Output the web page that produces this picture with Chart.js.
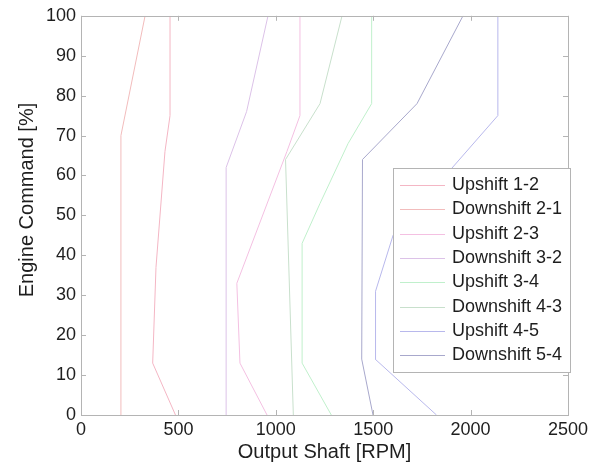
<!DOCTYPE html>
<html>
<head>
<meta charset="utf-8">
<script src="https://cdn.jsdelivr.net/npm/chart.js@4.4.0/dist/chart.umd.min.js"></script>
<style>
  html, body { margin: 0; padding: 0; background: #fff; }
  #wrap { width: 610px; height: 468px; }
</style>
</head>
<body>
<div id="wrap"><canvas id="shiftChart" width="610" height="468"></canvas></div>
<script>
// shift schedule: engine command breakpoints [%] and output shaft speed [RPM]
const up12Thr = [0, 13, 37, 66, 75, 100];
const up12Rpm = [485, 368, 385, 431, 457, 457];
const down21Thr = [0, 70, 100];
const down21Rpm = [205, 205, 329];
const up23Thr = [0, 13, 33, 66, 75, 100];
const up23Rpm = [955, 816, 800, 1057, 1124, 1124];
const down32Thr = [0, 62, 76, 100];
const down32Rpm = [745, 745, 850, 960];
const up34Thr = [0, 13, 43, 53, 68, 78, 100];
const up34Rpm = [1285, 1135, 1135, 1227, 1371, 1492, 1492];
const down43Thr = [0, 64, 78, 100];
const down43Rpm = [1090, 1050, 1227, 1340];
const up45Thr = [0, 14, 31, 45, 75, 100];
const up45Rpm = [1825, 1510, 1512, 1602, 2140, 2140];
const down54Thr = [0, 14, 64, 78, 100];
const down54Rpm = [1499, 1441, 1445, 1725, 1961];

const seriesNames = ['Upshift 1-2', 'Downshift 2-1', 'Upshift 2-3', 'Downshift 3-2',
                     'Upshift 3-4', 'Downshift 4-3', 'Upshift 4-5', 'Downshift 5-4'];
const seriesColors = ['#f4b6c4', '#f2bcbc', '#f4c0e2', '#dcc2e8',
                      '#c0f0cc', '#c8e0cc', '#b8b8ec', '#a8a8cc'];
const xTicks = [0, 500, 1000, 1500, 2000, 2500];
const yTicks = [0, 10, 20, 30, 40, 50, 60, 70, 80, 90, 100];

function toPoints(thr, rpm) {
    let pts = [];
    for (let i = 0; i < thr.length; i++) {
        pts.push({ x: rpm[i], y: thr[i] });
    }
    return pts;
}

const seriesData = [
    toPoints(up12Thr, up12Rpm),
    toPoints(down21Thr, down21Rpm),
    toPoints(up23Thr, up23Rpm),
    toPoints(down32Thr, down32Rpm),
    toPoints(up34Thr, up34Rpm),
    toPoints(down43Thr, down43Rpm),
    toPoints(up45Thr, up45Rpm),
    toPoints(down54Thr, down54Rpm)
];

const frameColor = '#b4b4b4';
const textColor = '#1e1e1e';
const fontFamily = '"Liberation Sans", Arial, Helvetica, sans-serif';

// box around the axes with short inward ticks on all four sides
const axesBox = {
    id: 'axesBox',
    afterDatasetsDraw(chart) {
        const ctx = chart.ctx;
        const a = chart.chartArea;
        const xs = chart.scales.x;
        const ys = chart.scales.y;
        const len = 5;
        ctx.save();
        ctx.strokeStyle = frameColor;
        ctx.lineWidth = 1;
        ctx.beginPath();
        xTicks.forEach(v => {
            const px = Math.round(xs.getPixelForValue(v)) + 0.5;
            ctx.moveTo(px, a.bottom); ctx.lineTo(px, a.bottom - len);
            ctx.moveTo(px, a.top); ctx.lineTo(px, a.top + len);
        });
        yTicks.forEach(v => {
            const py = Math.round(ys.getPixelForValue(v)) + 0.5;
            ctx.moveTo(a.left, py); ctx.lineTo(a.left + len, py);
            ctx.moveTo(a.right, py); ctx.lineTo(a.right - len, py);
        });
        ctx.stroke();
        ctx.strokeRect(Math.round(a.left) + 0.5, Math.round(a.top) + 0.5,
                       Math.round(a.right - a.left), Math.round(a.bottom - a.top));

        // y axis title, rotated
        ctx.fillStyle = textColor;
        ctx.font = '20px ' + fontFamily;
        ctx.textAlign = 'center';
        ctx.textBaseline = 'middle';
        ctx.translate(27, 200);
        ctx.rotate(-Math.PI / 2);
        ctx.fillText('Engine Command [%]', 0, 0);
        ctx.restore();
    }
};

// legend box drawn inside the plot, lower right
const boxLegend = {
    id: 'boxLegend',
    afterDatasetsDraw(chart, args, opts) {
        const ctx = chart.ctx;
        ctx.save();
        ctx.fillStyle = '#fff';
        ctx.fillRect(opts.left, opts.top, opts.width, opts.height);
        ctx.strokeStyle = frameColor;
        ctx.lineWidth = 1;
        ctx.strokeRect(opts.left + 0.5, opts.top + 0.5, opts.width, opts.height);
        ctx.font = opts.fontSize + 'px ' + fontFamily;
        ctx.textBaseline = 'middle';
        ctx.textAlign = 'left';
        chart.data.datasets.forEach((ds, i) => {
            const y = Math.round(opts.top + opts.firstRow + i * opts.rowGap);
            ctx.strokeStyle = ds.borderColor;
            ctx.beginPath();
            ctx.moveTo(opts.left + opts.lineStart, y + 0.5);
            ctx.lineTo(opts.left + opts.lineEnd, y + 0.5);
            ctx.stroke();
            ctx.fillStyle = textColor;
            ctx.fillText(ds.label, opts.left + opts.textStart, y);
        });
        ctx.restore();
    }
};

function createChart(ctx) {
    let datasets = [];
    for (let i = 0; i < seriesNames.length; i++) {
        datasets.push({
            label: seriesNames[i],
            data: seriesData[i],
            borderColor: seriesColors[i],
            borderWidth: 1,
            pointRadius: 0,
            fill: false,
            tension: 0
        });
    }
    return new Chart(ctx, {
        type: 'line',
        data: { datasets: datasets },
        plugins: [axesBox, boxLegend],
        options: {
            responsive: false,
            devicePixelRatio: 1,
            animation: false,
            layout: {
                padding: { left: 0, top: 13, right: 42, bottom: 0 }
            },
            plugins: {
                legend: { display: false },
                tooltip: { enabled: false },
                boxLegend: {
                    left: 393, top: 168, width: 177, height: 204,
                    firstRow: 17, rowGap: 24.3,
                    lineStart: 7, lineEnd: 52, textStart: 59,
                    fontSize: 18
                }
            },
            scales: {
                x: {
                    type: 'linear',
                    min: 0,
                    max: 2500,
                    afterFit: function (scale) { scale.height = 53; },
                    afterBuildTicks: function (scale) {
                        scale.ticks = xTicks.map(v => ({ value: v }));
                    },
                    grid: { display: false, drawTicks: false },
                    border: { display: false },
                    ticks: {
                        color: textColor,
                        font: { family: fontFamily, size: 18 },
                        padding: 4,
                        maxRotation: 0,
                        callback: function (v) { return String(v); }
                    },
                    title: {
                        display: true,
                        text: 'Output Shaft [RPM]',
                        color: textColor,
                        font: { family: fontFamily, size: 20 },
                        padding: { top: 0, bottom: 4 }
                    }
                },
                y: {
                    min: 0,
                    max: 100,
                    afterFit: function (scale) { scale.width = 81; },
                    afterBuildTicks: function (scale) {
                        scale.ticks = yTicks.map(v => ({ value: v }));
                    },
                    grid: { display: false, drawTicks: false },
                    border: { display: false },
                    ticks: {
                        color: textColor,
                        font: { family: fontFamily, size: 18 },
                        padding: 5,
                        callback: function (v) { return String(v); }
                    }
                }
            }
        }
    });
}

createChart(document.getElementById('shiftChart').getContext('2d'));
</script>
</body>
</html>
